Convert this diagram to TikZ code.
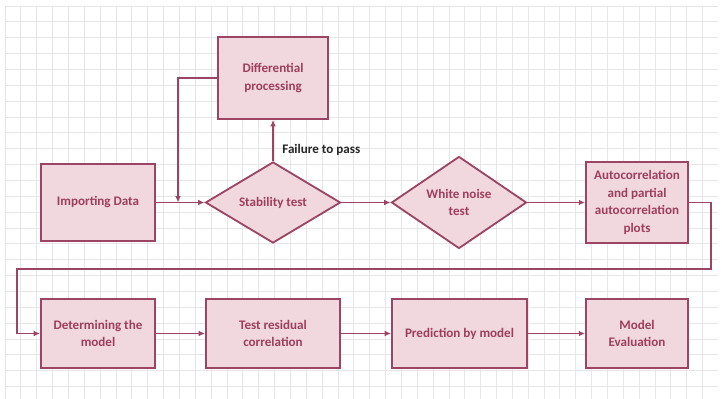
\documentclass[tikz,border=0pt]{standalone}
\usepackage{fontspec}
\setmainfont{Carlito}
\usetikzlibrary{shapes.geometric,arrows.meta}
\definecolor{edgecol}{RGB}{155,68,100}
\definecolor{boxfill}{RGB}{240,216,222}
\definecolor{textcol}{RGB}{158,62,94}
\definecolor{gridcol}{RGB}{230,230,230}
\tikzset{
  box/.style={draw=edgecol, fill=boxfill, line width=1.3pt, text=textcol, align=center,
    font=\fontsize{9.3}{12.6}\selectfont\bfseries, inner sep=2pt},
  decision/.style={box, diamond, minimum width=3.375cm, minimum height=2.025cm, inner sep=0pt},
  arr/.style={draw=edgecol, line width=1.3pt, -{Latex[length=4.5pt,width=4pt]}},
}
\begin{document}
\begin{tikzpicture}[x=0.025cm,y=-0.025cm]
\useasboundingbox (0,0) rectangle (722,399);
\fill[white] (0,0) rectangle (722,399);
\begin{scope}[shift={(5,6)}]
\draw[gridcol, line width=0.6pt, step=0.39625cm] (0,0) grid (713,393);
\end{scope}

\node[box, minimum width=2.75cm, minimum height=2.05cm] (diff) at (273,78) {Differential\\processing};
\node[box, minimum width=2.85cm, minimum height=1.925cm] (imp) at (98,202.5) {Importing Data};
\node[decision] (stab) at (273,202.5) {Stability test};
\node[decision] (white) at (459,202.5) {White noise\\test};
\node[box, minimum width=2.55cm, minimum height=2.025cm] (auto) at (637,202.5) {Autocorrelation\\and partial\\autocorrelation\\plots};

\node[box, minimum width=2.85cm, minimum height=1.725cm] (det) at (98,333.5) {Determining the\\model};
\node[box, minimum width=3.35cm, minimum height=1.725cm] (resid) at (273,333.5) {Test residual\\correlation};
\node[box, minimum width=3.375cm, minimum height=1.725cm] (pred) at (459.5,333.5) {Prediction by model};
\node[box, minimum width=2.55cm, minimum height=1.725cm] (eval) at (637,333.5) {Model\\Evaluation};

\coordinate (join) at (178,202.5);
\coordinate (c1) at (711,269);
\coordinate (c2) at (17,269);

\draw[arr] (imp) -- (stab);
\draw[arr] (stab.north) -- node[pos=0.27, right=6pt, text=black!85, font=\fontsize{9.3}{12}\selectfont\bfseries, inner sep=0pt] {Failure to pass} (diff.south);
\draw[arr] (diff.west) -| (join);
\draw[arr] (stab) -- (white);
\draw[arr] (white) -- (auto);
\draw[arr] (auto.east) -| (c1) -- (c2) |- (det.west);

\draw[arr] (det) -- (resid);
\draw[arr] (resid) -- (pred);
\draw[arr] (pred) -- (eval);

\end{tikzpicture}
\end{document}
